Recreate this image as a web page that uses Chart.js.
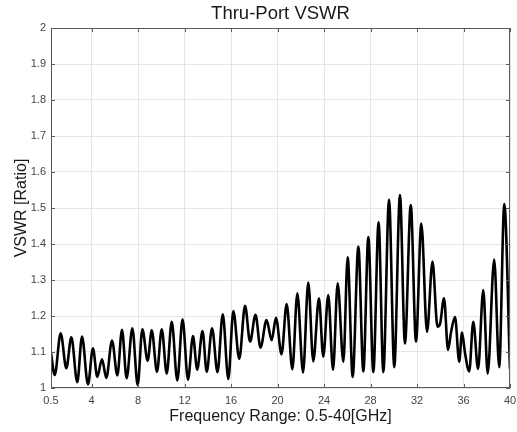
<!DOCTYPE html>
<html lang="en">
<head>
  <meta charset="UTF-8" />
  <title>Thru-Port VSWR</title>
  <script src="https://cdn.jsdelivr.net/npm/chart.js"></script>
  <style>
    html, body { margin: 0; padding: 0; background: #fff; }
    #wrap { width: 517px; height: 432px; }
  </style>
</head>
<body>
  <div id="wrap"><canvas id="vswrChart" width="517" height="432"></canvas></div>

  <script>
    // peaks / valleys
    const freqGHz = [
      0.5, 0.82, 1.33, 1.82, 2.25, 2.76, 3.17, 3.68, 4.11, 4.48,
      4.89, 5.26, 5.75, 6.21, 6.61, 7.01, 7.50, 7.96, 8.36, 8.82,
      9.17, 9.62, 10.03, 10.46, 10.89, 11.37, 11.82, 12.29, 12.72, 13.08,
      13.54, 13.90, 14.36, 14.83, 15.28, 15.76, 16.19, 16.70, 17.20, 17.63,
      18.10, 18.53, 19.05, 19.49, 19.86, 20.34, 20.78, 21.27, 21.70, 22.19,
      22.64, 23.07, 23.56, 23.93, 24.36, 24.77, 25.17, 25.66, 26.03, 26.46,
      26.95, 27.38, 27.81, 28.24, 28.69, 29.10, 29.59, 30.04, 30.53, 30.96,
      31.46, 31.91, 32.37, 32.86, 33.33, 33.76, 33.98, 34.32, 34.67, 34.92,
      35.27, 35.63, 35.87, 36.13, 36.49, 36.84, 37.25, 37.70, 38.08, 38.64,
      39.07, 39.51, 40.0
    ];
    const vswr = [
      1.097, 1.036, 1.152, 1.055, 1.141, 1.016, 1.143, 1.010, 1.110, 1.031,
      1.080, 1.028, 1.132, 1.035, 1.162, 1.027, 1.166, 1.008, 1.163, 1.076,
      1.160, 1.045, 1.163, 1.040, 1.184, 1.021, 1.191, 1.023, 1.144, 1.051,
      1.158, 1.045, 1.166, 1.044, 1.205, 1.025, 1.214, 1.081, 1.228, 1.129,
      1.203, 1.112, 1.189, 1.133, 1.195, 1.094, 1.233, 1.052, 1.263, 1.043,
      1.293, 1.074, 1.249, 1.087, 1.258, 1.050, 1.291, 1.073, 1.363, 1.031,
      1.393, 1.046, 1.419, 1.044, 1.460, 1.044, 1.523, 1.058, 1.536, 1.124,
      1.508, 1.129, 1.457, 1.156, 1.351, 1.170, 1.178, 1.249, 1.106, 1.154,
      1.197, 1.073, 1.154, 1.097, 1.046, 1.184, 1.053, 1.272, 1.040, 1.357,
      1.058, 1.511, 1.052
    ];
    const xTicks = [0.5, 4, 8, 12, 16, 20, 24, 28, 32, 36, 40];
    const yTicks = [1, 1.1, 1.2, 1.3, 1.4, 1.5, 1.6, 1.7, 1.8, 1.9, 2];
    const chartTitle = 'Thru-Port VSWR';

    const FONT = "'Liberation Sans', Arial, Helvetica, sans-serif";

    // MATLAB style box with inward ticks, title centred over the axes
    const boxPlugin = {
      id: 'boxPlugin',
      afterDraw(chart) {
        const { ctx, chartArea: a, scales } = chart;
        ctx.save();
        ctx.strokeStyle = '#5a5a5a';
        ctx.lineWidth = 1;
        ctx.strokeRect(a.left + 0.5, a.top + 0.5, a.right - a.left - 1, a.bottom - a.top - 1);
        ctx.beginPath();
        xTicks.forEach(v => {
          const px = Math.round(scales.x.getPixelForValue(v)) + 0.5;
          ctx.moveTo(px, a.bottom); ctx.lineTo(px, a.bottom - 4);
          ctx.moveTo(px, a.top); ctx.lineTo(px, a.top + 4);
        });
        yTicks.forEach(v => {
          const py = Math.round(scales.y.getPixelForValue(v)) + 0.5;
          ctx.moveTo(a.left, py); ctx.lineTo(a.left + 4, py);
          ctx.moveTo(a.right, py); ctx.lineTo(a.right - 4, py);
        });
        ctx.stroke();

        ctx.fillStyle = '#1a1a1a';
        ctx.font = '18.5px ' + FONT;
        ctx.textAlign = 'center';
        ctx.textBaseline = 'middle';
        ctx.fillText(chartTitle, (a.left + a.right) / 2, 14);
        ctx.restore();
      }
    };

    const ctx = document.getElementById('vswrChart').getContext('2d');
    new Chart(ctx, {
      type: 'line',
      data: {
        datasets: [{
          data: freqGHz.map((f, i) => ({ x: f, y: vswr[i] })),
          borderColor: '#000',
          borderWidth: 2.6,
          pointRadius: 0,
          fill: false,
          tension: 0.4,
          cubicInterpolationMode: 'monotone'
        }]
      },
      options: {
        responsive: false,
        animation: false,
        layout: { padding: { left: 0, right: 0, top: 28, bottom: 0 } },
        plugins: {
          legend: { display: false },
          tooltip: { enabled: false },
          title: { display: false }
        },
        scales: {
          x: {
            type: 'linear',
            min: 0.5,
            max: 40,
            afterBuildTicks: s => { s.ticks = xTicks.map(v => ({ value: v })); },
            afterFit: s => { s.height = 44; s.paddingLeft = 0; s.paddingRight = 7; },
            ticks: {
              color: '#444',
              padding: 6,
              maxRotation: 0,
              autoSkip: false,
              font: { family: FONT, size: 11 },
              callback: v => String(v)
            },
            grid: { color: '#e6e6e6', drawTicks: false },
            border: { display: false },
            title: {
              display: true,
              text: 'Frequency Range: 0.5-40[GHz]',
              color: '#1a1a1a',
              font: { family: FONT, size: 16 },
              padding: { top: 0, bottom: 6 }
            }
          },
          y: {
            min: 1,
            max: 2,
            afterBuildTicks: s => { s.ticks = yTicks.map(v => ({ value: v })); },
            afterFit: s => { s.width = 51; },
            ticks: {
              color: '#444',
              padding: 5,
              font: { family: FONT, size: 11 },
              callback: v => String(Number(v.toFixed(1)))
            },
            grid: { color: '#e6e6e6', drawTicks: false },
            border: { display: false },
            title: {
              display: true,
              text: 'VSWR [Ratio]',
              color: '#1a1a1a',
              font: { family: FONT, size: 16 },
              padding: { top: 12, bottom: 0 }
            }
          }
        }
      },
      plugins: [boxPlugin]
    });
  </script>
</body>
</html>
